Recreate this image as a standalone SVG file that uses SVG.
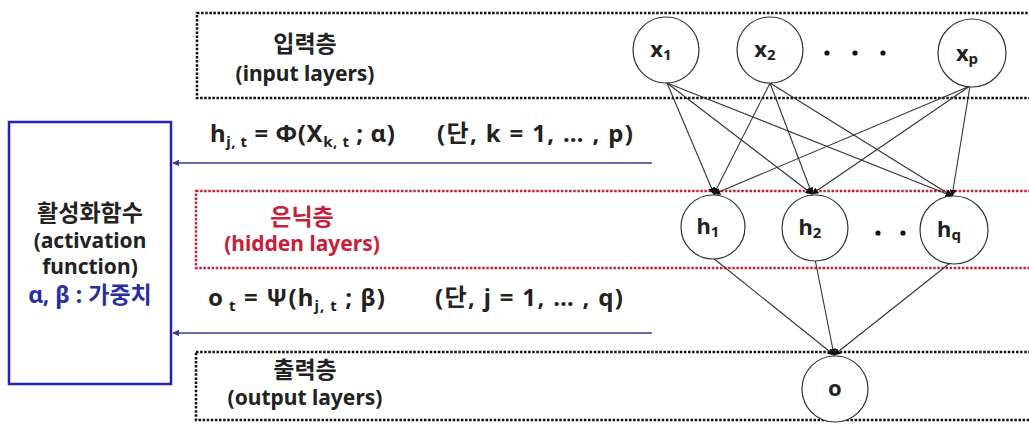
<svg xmlns="http://www.w3.org/2000/svg" width="1029" height="425" viewBox="0 0 1029 425">
<defs>
<style>
.t{font-family:"Noto Sans","Noto Sans CJK KR",sans-serif;font-weight:bold;fill:#222}
.ko{font-size:23px}
.en{font-size:21px}
.fm{font-size:24px}
.lay{fill:none;stroke:#111;stroke-width:2.5;stroke-dasharray:2.5 1.6}
.hid{fill:none;stroke:#c8203a;stroke-width:2.5;stroke-dasharray:2.5 1.6}
.node{fill:#fff;stroke:#333;stroke-width:1.2}
.ed{stroke:#333;stroke-width:1.1;fill:none;marker-end:url(#ah)}
.fb{stroke:#3b3b8f;stroke-width:1.3;fill:none;marker-end:url(#ab)}
.sub{font-size:15px}
.nl{font-size:22px}
.ns{font-size:15px}
</style>
<marker id="ah" viewBox="0 0 10 10" refX="9" refY="5" markerWidth="7" markerHeight="7" orient="auto" markerUnits="userSpaceOnUse"><path d="M0,0 L10,5 L0,10 z" fill="#111"/></marker>
<marker id="ab" viewBox="0 0 10 10" refX="9" refY="5" markerWidth="7" markerHeight="7" orient="auto" markerUnits="userSpaceOnUse"><path d="M0,0 L10,5 L0,10 z" fill="#3b3b8f"/></marker>
</defs>
<rect width="1029" height="425" fill="#fff"/>

<g id="input-layer">
<rect class="lay" x="197" y="13" width="850" height="85"/>
<text class="t ko" x="305" y="52" text-anchor="middle">입력층</text>
<text class="t en" x="305" y="81" text-anchor="middle">(input layers)</text>
</g>
<g id="hidden-layer">
<rect class="hid" x="196" y="191" width="850" height="77"/>
<text class="t ko" x="302" y="225" text-anchor="middle" style="fill:#c8203a">은닉층</text>
<text class="t en" x="302" y="251" text-anchor="middle" style="fill:#c8203a">(hidden layers)</text>
</g>
<g id="output-layer">
<rect class="lay" x="196" y="352" width="850" height="68"/>
<text class="t ko" x="305" y="378" text-anchor="middle">출력층</text>
<text class="t en" x="305" y="405" text-anchor="middle">(output layers)</text>
</g>

<g id="activation">
<rect x="9" y="122" width="162" height="262" fill="#fff" stroke="#2222c0" stroke-width="2.5"/>
<text class="t ko" x="90" y="221" text-anchor="middle">활성화함수</text>
<text class="t en" x="90" y="248" text-anchor="middle">(activation</text>
<text class="t en" x="90" y="274" text-anchor="middle">function)</text>
<text class="t" x="90" y="303" font-size="23" text-anchor="middle" style="fill:#2a2fa0">α, β : 가중치</text>
</g>

<g id="formula-hidden">
<text class="t fm" x="210" y="142" textLength="185" lengthAdjust="spacing">h<tspan class="sub" dy="5">j, t</tspan><tspan dy="-5"> = Φ(X</tspan><tspan class="sub" dy="5">k, t</tspan><tspan dy="-5"> ; α)</tspan></text>
<text class="t fm" x="437" y="142" textLength="196" lengthAdjust="spacing">(단, k = 1, … , p)</text>
</g>
<g id="formula-output">
<text class="t fm" x="208" y="306" textLength="177" lengthAdjust="spacing">o<tspan class="sub" dy="5"> t</tspan><tspan dy="-5"> = Ψ(h</tspan><tspan class="sub" dy="5">j, t</tspan><tspan dy="-5"> ; β)</tspan></text>
<text class="t fm" x="435" y="306" textLength="188" lengthAdjust="spacing">(단, j = 1, … , q)</text>
</g>

<g id="connectors">
<line class="fb" x1="652" y1="163" x2="173" y2="163"/>
<line class="fb" x1="652" y1="333" x2="173" y2="333"/>
<line class="ed" x1="667" y1="83" x2="714" y2="194"/>
<line class="ed" x1="667" y1="83" x2="812" y2="194"/>
<line class="ed" x1="667" y1="83" x2="952" y2="196"/>
<line class="ed" x1="770" y1="83" x2="714" y2="194"/>
<line class="ed" x1="770" y1="83" x2="812" y2="194"/>
<line class="ed" x1="770" y1="83" x2="952" y2="196"/>
<line class="ed" x1="970" y1="86" x2="714" y2="194"/>
<line class="ed" x1="970" y1="86" x2="812" y2="194"/>
<line class="ed" x1="970" y1="86" x2="952" y2="196"/>
<line class="ed" x1="713" y1="258" x2="834" y2="355"/>
<line class="ed" x1="815" y1="259" x2="834" y2="355"/>
<line class="ed" x1="950" y1="263" x2="834" y2="355"/>
</g>

<g id="x1"><circle class="node" cx="666" cy="50" r="33"/><text class="t nl" x="661" y="57" text-anchor="middle">x<tspan class="ns" dy="3">1</tspan></text></g>
<g id="x2"><circle class="node" cx="770" cy="50" r="33"/><text class="t nl" x="765" y="57" text-anchor="middle">x<tspan class="ns" dy="3">2</tspan></text></g>
<g id="xdots"><circle cx="827" cy="53" r="2.6" fill="#111"/><circle cx="855" cy="53" r="2.6" fill="#111"/><circle cx="883" cy="53" r="2.6" fill="#111"/></g>
<g id="xp"><circle class="node" cx="972" cy="53" r="34"/><text class="t nl" x="967" y="61" text-anchor="middle">x<tspan class="ns" dy="3">p</tspan></text></g>

<g id="h1"><circle class="node" cx="713" cy="227" r="32"/><text class="t nl" x="708" y="234" text-anchor="middle">h<tspan class="ns" dy="3">1</tspan></text></g>
<g id="h2"><circle class="node" cx="815" cy="228" r="33"/><text class="t nl" x="810" y="235" text-anchor="middle">h<tspan class="ns" dy="3">2</tspan></text></g>
<g id="hdots"><circle cx="878" cy="233" r="2.6" fill="#111"/><circle cx="903" cy="233" r="2.6" fill="#111"/></g>
<g id="hq"><circle class="node" cx="954" cy="230" r="34"/><text class="t nl" x="949" y="237" text-anchor="middle">h<tspan class="ns" dy="3">q</tspan></text></g>

<g id="o"><circle class="node" cx="835" cy="389" r="33"/><text class="t nl" x="835" y="396" text-anchor="middle">o</text></g>
</svg>
